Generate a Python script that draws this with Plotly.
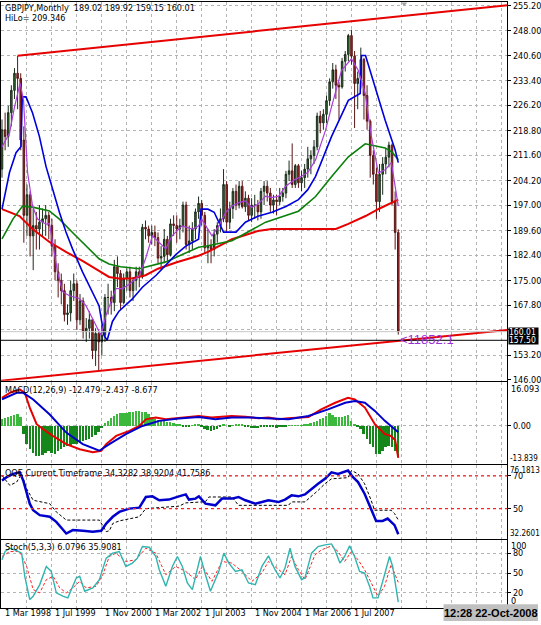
import plotly.graph_objects as go
import pandas as pd

W, H = 541, 625

# ---------------- data ----------------
months = pd.date_range("1998-03-01", "2008-10-01", freq="MS")
bars = list(range(len(months)))

open_ = [207.5, 219, 217, 224, 230.5, 235.5, 234, 216, 194, 200,
         188, 191, 190, 192, 193, 194, 191, 185, 177.5, 175,
         172, 165, 165.5, 172, 174, 163.5, 169, 160, 161, 163.5,
         154.5, 159.5, 157, 159, 170, 170, 168.5, 179, 177, 168.5,
         175.5, 177.5, 172, 175, 177.5, 176, 190.5, 190, 188, 189,
         187.5, 181.5, 182, 187, 182.5, 191.5, 191, 190, 191, 197,
         185.5, 186.5, 190, 195, 197.5, 194, 184.5, 185, 184, 188.5,
         191, 193, 203, 192, 196, 201, 197, 202.5, 196.5, 199,
         194, 197, 197, 195, 201, 202.5, 200.5, 197, 198.5, 198,
         199.5, 200.5, 206, 207, 203, 208.5, 203.5, 205, 207.5, 210.5,
         211.5, 214, 223, 221, 223.5, 227.5, 233, 236.5, 232, 231.5,
         239, 241, 246.5, 240.5, 232.5, 234, 239.5, 229, 221.5, 211.5,
         206, 198, 206, 209, 211, 214.5, 198, 189.02]
high = [222, 224, 226, 232, 237, 240.6, 235.5, 220, 203, 201,
        196, 195, 197, 196, 197, 195, 193, 187, 180, 177,
        174, 168, 175, 177, 175, 171, 170, 164, 166, 164,
        161, 160, 162, 171, 174, 172, 181, 182, 178, 177,
        178.5, 179, 176, 179, 179, 191.5, 192.5, 191, 191, 191,
        189, 185, 190, 188, 193, 194, 194, 193, 198, 198,
        191, 192, 196, 199.5, 198.5, 195, 190, 187, 190, 192,
        196, 207.5, 204, 198, 202, 203, 204, 204, 201, 200,
        199, 200, 198.5, 202, 204, 204, 202, 200, 200, 202,
        202, 207, 210, 215, 209, 209, 207, 209, 214, 213,
        216, 224, 224.5, 225, 229, 234, 238.5, 238, 233, 240,
        242, 247, 248.2, 242, 236, 243, 240, 232, 222, 213,
        208, 209, 211, 213.5, 215.5, 215, 201, 189.92]
low = [205, 213, 214, 220, 228, 225, 213, 186, 188, 182,
       178, 184, 184, 188, 188, 187, 182, 175, 170, 168,
       163, 162, 163, 169, 160.5, 162, 158, 157, 158, 152,
       150, 148.5, 153, 157, 165, 165, 166, 173, 166.5, 168,
       172, 170, 169, 172, 173, 175.5, 187, 186, 185.5, 185,
       180, 178, 180, 180.5, 182, 188, 186, 187, 189, 184,
       183, 184, 187, 193, 191, 183, 180, 180, 182, 186,
       189, 192, 189, 190, 193, 195.5, 196, 196, 195, 192.5,
       192, 193, 192.5, 193, 197, 198, 195, 194.5, 194, 197,
       198, 199, 204, 202, 202, 202, 201, 202, 205, 206,
       209, 213, 218, 219, 221, 226, 231, 228, 222, 231,
       236, 239, 238, 219.5, 225, 231, 222, 219, 205, 203,
       193, 195, 200, 206, 208, 197, 184, 159.15]
close = [219, 217, 224, 230.5, 235.5, 234, 216, 194, 200, 188,
         191, 190, 192, 193, 194, 191, 185, 177.5, 175, 172,
         165, 165.5, 172, 174, 163.5, 169, 160, 161, 163.5, 154.5,
         159.5, 157, 159, 170, 170, 168.5, 179, 177, 168.5, 175.5,
         177.5, 172, 175, 177.5, 176, 190.5, 190, 188, 189, 187.5,
         181.5, 182, 187, 182.5, 191.5, 191, 190, 191, 197, 185.5,
         186.5, 190, 195, 197.5, 194, 184.5, 185, 184, 188.5, 191,
         193, 203, 192, 196, 201, 197, 202.5, 196.5, 199, 194,
         197, 197, 195, 201, 202.5, 200.5, 197, 198.5, 198, 199.5,
         200.5, 206, 207, 203, 208.5, 203.5, 205, 207.5, 210.5, 211.5,
         214, 223, 221, 223.5, 227.5, 233, 236.5, 232, 231.5, 239,
         241, 246.5, 240.5, 232.5, 234, 239.5, 229, 221.5, 211.5, 206,
         198, 206, 209, 211, 214.5, 198, 189, 160.01]

# moving averages (bar index, value)
ma_red_x = [0, 5.6, 9.8, 15.2, 20.5, 25.8, 31.1, 34.3, 38, 42, 46, 50, 56, 63, 66, 73.7, 82, 86.4, 98, 107, 111, 116.5, 121, 126, 127]
ma_red_y = [195.8, 193.8, 190.0, 186.2, 183.3, 180.7, 177.8, 176.0, 175.5, 175.6, 176.5, 178.4, 180.3, 182.2, 183.3, 187.0, 189.4, 190.0, 190.0, 190.0, 191.5, 193.8, 196.0, 198.2, 198.6]
ma_green_x = [0, 3.5, 6.6, 9.8, 15.2, 18.4, 22.6, 26.9, 31.1, 34.3, 38, 44, 52.5, 63, 66, 73.7, 84.5, 95, 100.5, 105.6, 111, 116.4, 122.8, 125, 127]
ma_green_y = [187.1, 192.9, 196.7, 196.4, 195.3, 192.9, 189.0, 185.1, 181.3, 179.8, 179.0, 178.4, 180.4, 184.7, 185.1, 186.6, 192.0, 195.2, 199.5, 205.3, 211.1, 214.9, 213.7, 212.5, 210.2]
ma_blue_x = [0, 2.4, 4.5, 6.1, 6.5, 7.7, 9.8, 12, 14.1, 16.2, 18.4, 20.5, 22.6, 25.8, 29, 31.1, 32.7, 33.7, 35.4, 37.5, 41.7, 45, 49.4, 52.5, 55.7, 58.9, 63, 63.8, 66, 68, 71, 75, 78, 82, 86.5, 91, 95, 98, 100.5, 105.6, 111, 114.8, 115.2, 116.5, 119.6, 122.8, 126, 127]
ma_blue_y = [195.8, 206.5, 212.3, 214.1, 228.6, 228.6, 223.9, 217.0, 208.3, 201.5, 194.9, 189.1, 184.2, 177.5, 171.7, 167.6, 158.9, 157.5, 163.0, 166.0, 169.5, 173.0, 176.5, 179.5, 182.5, 185.0, 187.0, 195.8, 195.8, 194.9, 189.1, 189.1, 192.0, 193.7, 194.9, 196.6, 198.6, 201.5, 205.4, 217.0, 227.6, 229.6, 240.7, 240.7, 231.5, 221.8, 213.1, 209.4]
ma_purple_x = [0, 2.4, 4, 5.8, 6.9, 8.2, 9.8, 11.4, 14.1, 15.2, 16.2, 17.8, 19.4, 21.6, 24.8, 26.9, 30.1, 31.7, 33.3, 34.5, 36.5, 38.6, 41, 44, 46, 48.2, 50.3, 52.5, 54.5, 57.7, 61, 63, 64, 65.3, 67.3, 69.5, 71.7, 73.7, 75.9, 78, 80, 82, 84.5, 86.4, 88.7, 90.9, 94, 96, 98, 100.5, 103.7, 105.6, 108.8, 112, 114.2, 116.4, 118.4, 120.6, 122.8, 124.8, 127]
ma_purple_y = [214, 218, 225.6, 232.6, 227.6, 206.5, 196.7, 192.9, 191.4, 191.6, 186.2, 177.5, 171.7, 170.5, 169.7, 167.6, 161.9, 159.0, 164.7, 167.6, 172.6, 172.6, 174.0, 176.4, 181.3, 188.0, 186.2, 184.2, 188.0, 190.9, 190.0, 190.9, 192.9, 190.9, 188.0, 190.9, 194.9, 196.7, 197.7, 198.2, 196.3, 197.2, 199.6, 199.2, 199.6, 202.5, 204.5, 205.4, 206.5, 210.2, 218.9, 225.7, 236.3, 239.7, 236.3, 229.6, 217.0, 206.4, 207.3, 209.4, 196.7]

# HiLo channel lines (bar index, price)
hilo_up_x, hilo_up_y = [5, 162], [240.6, 255.4]
hilo_lo_x, hilo_lo_y = [-0.3, 162], [145.7, 160.5]
bid_price = 160.01
line_price = 157.50

price_ticks = [255.2, 248.0, 240.6, 233.4, 226.2, 218.8, 211.6, 204.2, 197.0, 189.6,
               182.4, 175.0, 167.8, 160.6, 153.2, 146.0]

# MACD
macd_hist = [2.5, 3.0, 3.3, 3.8, 4.2, 4.5, 3.5,
             -3.2, -7.0, -9.0, -10.5, -11.7, -12.0, -11.5, -10.5, -10.0, -10.5, -11.0, -10.0, -9.0,
             -8.5, -8.0, -7.5, -7.0, -7.0, -6.5, -6.0, -5.5, -5.0, -4.5, -3.5, -2.5, -1.0,
             1.0, 2.0, 3.0, 4.0, 4.5, 5.0, 5.0, 5.0, 5.3, 5.5, 5.8, 5.8, 5.5, 5.5, 4.5, 3.3,
             2.6, 2.3, 2.0, 1.8, 1.5, 1.3, 1.0, 0.6, 0.3,
             -0.3, -0.5, -0.2, 0.2, 0.4, 0.3, -0.5, -1.2, -1.8, -2.0, -1.8, -1.2, -0.6, 0.3, 0.0,
             -0.2, 0.2, 0.4, 0.6, 0.3, -0.2, -0.6, -0.9, -0.9, -0.8, -0.5, -0.3, -0.5, -0.5,
             -0.6, -0.7, -0.5, -0.3, -0.2, 0.1, 0.2, 0.1, 0.2, 0.2, 0.4, 0.7, 1.2, 1.6, 2.0,
             2.6, 3.2, 3.9, 4.8, 4.4, 3.6, 3.3, 3.6, 3.9, 4.4, 2.0, 0.7, -0.5, -1.3, -3.2,
             -5.2, -7.0, -8.4, -11.0, -11.0, -9.7, -8.4, -7.8, -8.4, -9.7, -12.3]
macd_red_x = [0, 2.5, 5.7, 7.3, 8.9, 11.1, 13.2, 16.3, 20.6, 24.9, 29.1, 31.8, 33.4, 36.6, 40.8, 44, 46.1, 49.3, 52.5, 58.9, 63.1, 67.2, 73.6, 78.1, 82.2, 85.4, 88.6, 91.8, 98.2, 102.3, 106.8, 110.9, 113.1, 116.3, 119.5, 122.7, 124.6, 126, 127]
macd_red_y = [11.0, 13.0, 14.3, 13.0, 7.2, 0.7, -1.3, -3.9, -7.1, -9.1, -10.3, -9.7, -7.1, -3.9, -1.9, 0.0, 2.6, 3.3, 2.6, 3.3, 3.9, 3.3, 3.9, 3.6, 3.0, 3.3, 2.6, 3.0, 3.5, 6.5, 9.1, 11.0, 10.4, 7.2, 0.7, -3.2, -3.9, -5.5, -12.479]
macd_blue_x = [0, 4.7, 6.8, 10, 15.3, 20.6, 25.9, 31.2, 34.4, 39.7, 45, 50.4, 56.7, 63.1, 68.4, 73.6, 80, 85.4, 91.8, 98.2, 104.5, 110, 113.1, 116.3, 119.5, 122.7, 125.9, 127]
macd_blue_y = [10.4, 13.0, 13.0, 10.4, 4.5, -2.6, -7.1, -9.7, -7.1, -3.2, 0.0, 2.0, 2.9, 3.5, 2.6, 3.3, 3.3, 3.0, 2.6, 3.9, 6.5, 9.1, 9.8, 9.1, 5.9, 2.0, -1.3, -2.437]

# QQE
qqe_fast_x = [0, 1.5, 3.6, 5.7, 6.8, 7.9, 8.9, 10, 12.1, 15.3, 17.4, 20.6, 22.7, 25.9, 29.1, 31.8, 33.4, 35.5, 37.6, 40.8, 44, 46.1, 48.2, 50.4, 53.5, 56.7, 58.9, 59.9, 62, 63.1, 65.2, 68.4, 70.5, 73.7, 75.8, 78, 81.2, 83.3, 85.4, 88.6, 90.7, 92.8, 95, 97.1, 99.2, 101.3, 103.5, 105.6, 107.7, 110.9, 112.5, 114.1, 116.2, 118.3, 119.9, 122, 123.6, 125.8, 127]
qqe_fast_y = [67.2, 69.2, 71.2, 72.2, 67.2, 59.1, 53.0, 49.0, 46.0, 45.0, 41.9, 34.8, 36.9, 36.5, 35.9, 36.5, 40.9, 45.0, 48.0, 50.0, 50.6, 57.1, 57.5, 55.1, 55.5, 57.5, 58.7, 55.5, 56.1, 57.5, 53.0, 52.0, 56.1, 56.1, 57.1, 55.1, 53.0, 54.0, 55.1, 54.0, 55.5, 58.1, 57.5, 58.7, 62.1, 65.2, 68.2, 72.2, 71.2, 73.3, 69.2, 66.2, 59.1, 49.0, 42.5, 42.5, 43.9, 39.9, 34.3282]
qqe_slow_x = [0, 2.5, 4.7, 6.3, 7.9, 10, 15.3, 17.4, 20.6, 31.2, 33.4, 34.4, 35.5, 37.6, 44, 46.1, 56.7, 58.9, 65.2, 66.3, 73.7, 75.8, 91.8, 92.8, 97.1, 99.2, 101.3, 103.5, 105.6, 110.9, 112, 114.1, 116.2, 118.3, 119.4, 124.7, 125.8, 127]
qqe_slow_y = [70.2, 64.2, 66.2, 71.2, 62.1, 55.1, 53.0, 48.0, 43.0, 43.0, 35.9, 36.5, 40.9, 42.5, 45.0, 50.0, 51.5, 53.5, 54.2, 57.1, 57.1, 52.0, 52.0, 54.1, 54.1, 57.5, 61.1, 65.2, 68.2, 68.9, 73.3, 71.2, 65.2, 55.1, 49.0, 49.0, 47.0, 43.0]
qqe_levels = [70, 50]

# Stochastic
stoch_k_x = [0, 1, 2.5, 4.7, 6.3, 7.3, 8.9, 10, 12.1, 14.2, 15.8, 17.4, 19.5, 21.1, 23.8, 24.9, 26.5, 29.1, 31.2, 33.4, 35.5, 37.6, 39.7, 41.8, 43.4, 45, 47.2, 49.3, 50.4, 52.5, 54.6, 56.2, 57.8, 59.4, 61, 63.6, 65.2, 66.8, 69.5, 71.1, 72.7, 74.8, 76.9, 79, 81.2, 83.3, 85.4, 87.5, 89.1, 90.7, 92.3, 93.9, 96, 97.1, 99.2, 101.3, 103.5, 105.6, 106.7, 108.3, 109.8, 111.4, 113, 114.6, 116.2, 117.8, 118.9, 120.5, 122.6, 124.2, 125.2, 127]
stoch_k_y = [70, 82.5, 87.5, 84, 80, 45, 10, 15, 32.5, 60, 52.5, 20, 15, 12.5, 42.5, 45, 22.5, 27.5, 40, 72.5, 80, 82.5, 60, 65, 72.5, 90, 89, 75, 55, 30, 60, 75, 60, 35, 25, 75, 47.5, 22.5, 52.5, 80, 65, 52.5, 55, 35, 32.5, 60, 76, 55, 42.5, 57.5, 87.5, 60, 40, 43, 80, 90, 92.5, 94, 85, 65, 75, 91, 75, 52.5, 50, 30, 12.5, 12.5, 47.5, 75, 60, 6.0796]
stoch_d_x = [0, 2.5, 5.7, 7.9, 10, 12.1, 14.2, 16.4, 18.5, 20.6, 22.7, 24.9, 27, 30.2, 32.3, 34.4, 36.5, 39.7, 42.9, 46.1, 49.3, 52.5, 55.7, 58.9, 62, 64.2, 67.3, 70.5, 73.7, 76.9, 80.1, 83.3, 85.4, 88.6, 90.7, 92.8, 95, 97.1, 100.3, 102.4, 105.6, 107.7, 109.8, 112, 114.1, 116.2, 118.3, 120.5, 122.6, 124.7, 127]
stoch_d_y = [75, 82.5, 82.5, 60, 25, 20, 40, 45, 27.5, 20, 27.5, 37.5, 27.5, 30, 47.5, 75, 80, 67.5, 70, 87.5, 80, 47.5, 60, 52.5, 40, 60, 37.5, 67.5, 65, 52.5, 37.5, 50, 67.5, 55, 47.5, 75, 55, 40, 77.5, 85, 91, 82.5, 67.5, 82.5, 70, 55, 35, 15, 30, 62.5, 35.9081]
stoch_levels = [80, 50, 20]

date_tick_bars = list(range(0, 113, 16))
grid_bars = list(range(0, 161, 8))

# ---------------- styling helpers ----------------
FONT = "DejaVu Sans Condensed, Liberation Sans Narrow, Arial Narrow, Liberation Sans, sans-serif"
GRID = "#b4b4b4"
px = lambda x: x / W
py = lambda y: 1 - y / H

X_DOM = [px(1), px(510)]
X_RANGE = [-0.32, 161.9]

fig = go.Figure()

# main panel
fig.add_trace(go.Candlestick(
    x=bars, open=open_, high=high, low=low, close=close,
    increasing=dict(line=dict(color="#1c2c1c", width=1), fillcolor="#2f6f2f"),
    decreasing=dict(line=dict(color="#5a1515", width=1), fillcolor="#9b2b2b"),
    whiskerwidth=0, xaxis="x", yaxis="y", hoverinfo="skip"))
fig.add_trace(go.Scatter(x=ma_red_x, y=ma_red_y, mode="lines", line=dict(color="#e60000", width=2), xaxis="x", yaxis="y"))
fig.add_trace(go.Scatter(x=ma_green_x, y=ma_green_y, mode="lines", line=dict(color="#0a800a", width=1.6), xaxis="x", yaxis="y"))
fig.add_trace(go.Scatter(x=ma_blue_x, y=ma_blue_y, mode="lines", line=dict(color="#0000dd", width=1.6), xaxis="x", yaxis="y"))
fig.add_trace(go.Scatter(x=ma_purple_x, y=ma_purple_y, mode="lines", line=dict(color="#a83fd6", width=1.2), xaxis="x", yaxis="y"))
fig.add_trace(go.Scatter(x=hilo_up_x, y=hilo_up_y, mode="lines", line=dict(color="#e60000", width=2), xaxis="x", yaxis="y"))
fig.add_trace(go.Scatter(x=hilo_lo_x, y=hilo_lo_y, mode="lines", line=dict(color="#e60000", width=2), xaxis="x", yaxis="y"))

# MACD panel
hist_colors = ["#3cb83c" if v >= 0 else "#15861a" for v in macd_hist]
fig.add_trace(go.Bar(x=bars, y=macd_hist, width=0.62, marker=dict(color=hist_colors, line=dict(width=0)), xaxis="x2", yaxis="y2"))
fig.add_trace(go.Scatter(x=macd_red_x, y=macd_red_y, mode="lines", line=dict(color="#e60000", width=2), xaxis="x2", yaxis="y2"))
fig.add_trace(go.Scatter(x=macd_blue_x, y=macd_blue_y, mode="lines", line=dict(color="#0000cc", width=2), xaxis="x2", yaxis="y2"))

# QQE panel
fig.add_trace(go.Scatter(x=qqe_slow_x, y=qqe_slow_y, mode="lines", line=dict(color="#000000", width=1, dash="3px,2px"), xaxis="x3", yaxis="y3"))
fig.add_trace(go.Scatter(x=qqe_fast_x, y=qqe_fast_y, mode="lines", line=dict(color="#0000cc", width=2.5), xaxis="x3", yaxis="y3"))

# Stoch panel
fig.add_trace(go.Scatter(x=stoch_d_x, y=stoch_d_y, mode="lines", line=dict(color="#ff2020", width=1, dash="3px,2px"), xaxis="x4", yaxis="y4"))
fig.add_trace(go.Scatter(x=stoch_k_x, y=stoch_k_y, mode="lines", line=dict(color="#30b4b0", width=1.4), xaxis="x4", yaxis="y4"))

def xax(anchor, match=None):
    d = dict(domain=X_DOM, range=X_RANGE, anchor=anchor, tickmode="array", tickvals=grid_bars,
             showticklabels=False, ticks="", showgrid=True, gridcolor=GRID, griddash="3px,3px",
             gridwidth=1, zeroline=False, showline=True, mirror=True, linecolor="#000", linewidth=1,
             rangeslider=dict(visible=False), fixedrange=True)
    if match:
        d["matches"] = match
    return d

def yax(anchor, dom, rng, tv, tt):
    return dict(domain=dom, range=rng, anchor=anchor, side="right", tickmode="array", tickvals=tv,
                ticktext=tt, ticks="outside", ticklen=3, tickcolor="#000", showgrid=True,
                gridcolor=GRID, griddash="3px,3px", gridwidth=1, zeroline=False, showline=True,
                mirror=True, linecolor="#000", linewidth=1, tickfont=dict(size=9, color="#000"),
                fixedrange=True)

price_text = ["" if abs(v - 160.6) < 0.01 else f"{v:.2f}" for v in price_ticks]

fig.update_layout(
    width=W, height=H, margin=dict(l=0, r=0, t=0, b=0),
    paper_bgcolor="white", plot_bgcolor="white", showlegend=False,
    font=dict(family=FONT, size=9, color="#000"),
    xaxis=xax("y"), xaxis2=xax("y2", "x"), xaxis3=xax("y3", "x"), xaxis4=xax("y4", "x"),
    yaxis=yax("x", [py(382.7), py(1)], [145.71, 256.32], price_ticks, price_text),
    yaxis2=yax("x2", [py(466.7), py(384.3)], [-14.89, 17.14], [0], ["0.00"]),
    yaxis3=yax("x3", [py(542), py(468)], [31.64, 76.48], qqe_levels, [str(v) for v in qqe_levels]),
    yaxis4=yax("x4", [py(611.7), py(543.5)], [-2.55, 99.7], stoch_levels, [str(v) for v in stoch_levels]),
    bargap=0,
)

shapes = []
shapes.append(dict(type="line", xref="x domain", yref="y", x0=0, x1=1, y0=bid_price, y1=bid_price, line=dict(color="#c8c8c8", width=1)))
shapes.append(dict(type="line", xref="x domain", yref="y", x0=0, x1=1, y0=line_price, y1=line_price, line=dict(color="#000", width=1)))
for lv in qqe_levels:
    shapes.append(dict(type="line", xref="x3 domain", yref="y3", x0=0, x1=1, y0=lv, y1=lv, line=dict(color="#ff2020", width=1.2, dash="dot")))
shapes.append(dict(type="rect", xref="paper", yref="paper", x0=px(446), x1=1, y0=0, y1=py(608), fillcolor="#c0c0c0", line=dict(width=0), layer="above"))
shapes.append(dict(type="path", xref="paper", yref="paper",
                   path=f"M {px(403.5)} {py(1.5)} L {px(409.5)} {py(1.5)} L {px(406.5)} {py(5)} Z",
                   fillcolor="#a0a0a0", line=dict(width=0)))
fig.update_layout(shapes=shapes)

ann = []
def label(text, x, y, size=9, **kw):
    d = dict(text=text, xref="paper", yref="paper", x=px(x), y=py(y), xanchor="left", yanchor="middle",
             showarrow=False, font=dict(size=size, color="#000"), borderpad=0)
    d.update(kw)
    ann.append(d)

label("GBPJPY,Monthly  189.02 189.92 159.15 160.01", 4, 7)
label("HiLo= 209.346", 4, 17)
label("MACD(12,26,9) -12.479 -2.437 -8.677", 4, 392.5)
label("QQE Current Timeframe 34.3282 38.9204 41.7586", 4, 475.5)
label("Stoch(5,3,3) 6.0796 35.9081", 4, 550)
# panel extreme labels on the right
label("16.093", 513, 391)
label("-13.839", 512, 461, size=8)
label("76.1813", 512, 473.5, size=8)
label("32.2601", 512, 537, size=8)
label("100", 513, 549.5)
label("0", 513, 605)
for v in (bid_price, line_price):
    ann.append(dict(text=f"{v:.2f}", xref="paper", yref="y", x=px(511), y=v, xanchor="left", yanchor="middle",
                    showarrow=False, font=dict(size=8.5, color="white"), bgcolor="#000", borderpad=0,
                    width=29, height=8, align="left"))
ann.append(dict(text="<11852.1", xref="x", yref="y", x=127, y=line_price + 0.3, xanchor="left", yanchor="middle",
                showarrow=False, font=dict(size=13, color="#9a30d8", family="Liberation Sans, Arial, sans-serif")))
for b in date_tick_bars:
    d = months[b]
    ann.append(dict(text=f"{d.day} {d.strftime('%b %Y')}", xref="x4", yref="paper", x=b, y=py(617),
                    xanchor="left", yanchor="middle", showarrow=False, font=dict(size=9, color="#000"), xshift=1))
ann.append(dict(text="<b>12:28 22-Oct-2008</b>", xref="paper", yref="paper", x=px(493.5), y=py(616.5),
                xanchor="center", yanchor="middle", showarrow=False,
                font=dict(size=11, color="#000", family="Liberation Sans, Arial, sans-serif")))
fig.update_layout(annotations=ann)

fig.write_html("out.html")
